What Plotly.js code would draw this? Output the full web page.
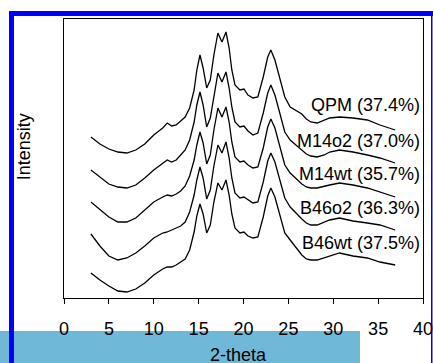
<!DOCTYPE html>
<html>
<head>
<meta charset="utf-8">
<script src="https://cdn.plot.ly/plotly-3.0.1.min.js"></script>
<style>
  html, body { margin: 0; padding: 0; background: #ffffff; }
  #chart { width: 433px; height: 363px; }
</style>
</head>
<body>
<div id="chart"></div>
<script>
// 2-theta angles (degrees)
const twoTheta = [3,4,5,6,7,8,9,10,11,11.5,12,12.5,13,13.5,14,14.5,14.8,15.15,15.5,15.9,16.3,16.7,17.15,17.6,18.05,18.4,18.7,19.05,19.6,20.05,20.5,21.05,21.6,22.2,22.7,23.05,23.5,24.1,24.6,25.2,26,26.5,27,27.5,28.2,29,29.6,30.7,32.2,33.8,35.2,36.9];

// sample names (top to bottom)
const sampleLabels = ["QPM (37.4%)", "M14o2 (37.0%)", "M14wt (35.7%)", "B46o2 (36.3%)", "B46wt (37.5%)"];

// intensities (arbitrary units, stacked as in the figure)
const qpm   = [161,154,149,146,145,148,154,163,170,175,172,173,177,181,190,208,228,243,230,210,218,243,265,256,266,250,228,213,208,209,203,200,201,221,241,248,238,218,201,191,187,184,179,176,175,178,180,181,180,178,173,168];
const m14o2 = [128,121,114,111,110,113,120,128,135,138,136,138,143,148,158,176,193,206,193,171,180,203,225,216,226,210,191,176,171,172,167,163,165,185,205,213,203,183,166,158,152,148,144,142,141,143,146,148,146,143,140,135];
const m14wt = [96,88,81,76,76,80,88,96,101,103,102,104,107,112,122,138,153,166,155,134,143,168,190,181,191,176,156,141,136,137,133,130,131,150,171,179,170,150,133,125,118,114,111,110,110,112,113,115,113,110,106,101];
const b46o2 = [64,52,42,38,40,45,52,60,65,66,68,70,72,76,86,103,118,131,120,99,108,132,153,145,156,140,120,105,100,101,98,95,96,116,137,145,136,116,100,91,83,79,75,73,73,76,78,80,77,75,73,68];
const b46wt = [25,18,12,7,6,9,15,23,29,31,31,33,36,39,48,66,82,94,84,65,73,96,115,108,118,103,84,70,65,66,62,60,61,81,102,110,101,81,65,58,48,43,39,38,38,40,42,45,42,40,36,33];

// label heights (same intensity units)
const labelY = [193, 157, 124, 90, 55];

const xTicks = [0,5,10,15,20,25,30,35,40];

const series = [qpm, m14o2, m14wt, b46o2, b46wt];

const traces = series.map((ys, i) => ({
  x: twoTheta,
  y: ys,
  type: "scatter",
  mode: "lines",
  name: sampleLabels[i],
  line: { color: "#000000", width: 1.3 },
  hoverinfo: "skip"
}));

const FONT = "Liberation Sans, Arial, Helvetica, sans-serif";

const annotations = sampleLabels.map((t, i) => ({
  text: t,
  x: 39.9, y: labelY[i],
  xref: "x", yref: "y",
  xanchor: "right", yanchor: "middle",
  showarrow: false,
  font: { family: FONT, size: 18, color: "#000000" }
}));

annotations.push({
  text: "Intensity",
  xref: "paper", yref: "paper",
  x: -0.111, y: 0.541,
  xanchor: "center", yanchor: "middle",
  textangle: -90,
  showarrow: false,
  font: { family: FONT, size: 18, color: "#000000" }
});

annotations.push({
  text: "2-theta",
  xref: "paper", yref: "paper",
  x: 0.485, y: -0.161,
  xanchor: "center", yanchor: "top",
  showarrow: false,
  font: { family: FONT, size: 18, color: "#000000" }
});

const shapes = [
  // light blue title bar
  { type: "rect", xref: "paper", yref: "paper", x0: -0.1783, x1: 0.8245, y0: -0.1183, y1: -0.30,
    fillcolor: "#70b8d8", line: { width: 0 }, layer: "below" },
  // blue border: top
  { type: "rect", xref: "paper", yref: "paper", x0: -0.1532, x1: 1.05, y0: 1.0108, y1: 1.0287,
    fillcolor: "#0000ff", line: { width: 0 }, layer: "below" },
  // blue border: left
  { type: "rect", xref: "paper", yref: "paper", x0: -0.1532, x1: -0.1393, y0: -0.30, y1: 1.0287,
    fillcolor: "#0000ff", line: { width: 0 }, layer: "below" },
  // blue border: right (thin)
  { type: "rect", xref: "paper", yref: "paper", x0: 1.0223, x1: 1.0265, y0: -0.30, y1: 1.0287,
    fillcolor: "#0000ff", line: { width: 0 }, layer: "below" }
];

const layout = {
  width: 433,
  height: 363,
  margin: { l: 64, r: 10, t: 19, b: 65, pad: 0 },
  paper_bgcolor: "#ffffff",
  plot_bgcolor: "#ffffff",
  showlegend: false,
  font: { family: FONT, size: 18, color: "#000000" },
  xaxis: {
    range: [0, 40],
    tickvals: xTicks,
    ticktext: xTicks.map(String),
    ticks: "outside",
    ticklen: 5,
    tickwidth: 1,
    tickcolor: "#000000",
    ticklabelstandoff: 9,
    ticklabeloverflow: "allow",
    showline: true,
    mirror: true,
    linecolor: "#000000",
    linewidth: 1,
    showgrid: false,
    zeroline: false,
    tickfont: { family: FONT, size: 18, color: "#000000" }
  },
  yaxis: {
    range: [0, 279],
    showticklabels: false,
    ticks: "",
    showline: true,
    mirror: true,
    linecolor: "#000000",
    linewidth: 1,
    showgrid: false,
    zeroline: false
  },
  annotations: annotations,
  shapes: shapes
};

Plotly.newPlot("chart", traces, layout, { displayModeBar: false, staticPlot: true });
</script>
</body>
</html>
